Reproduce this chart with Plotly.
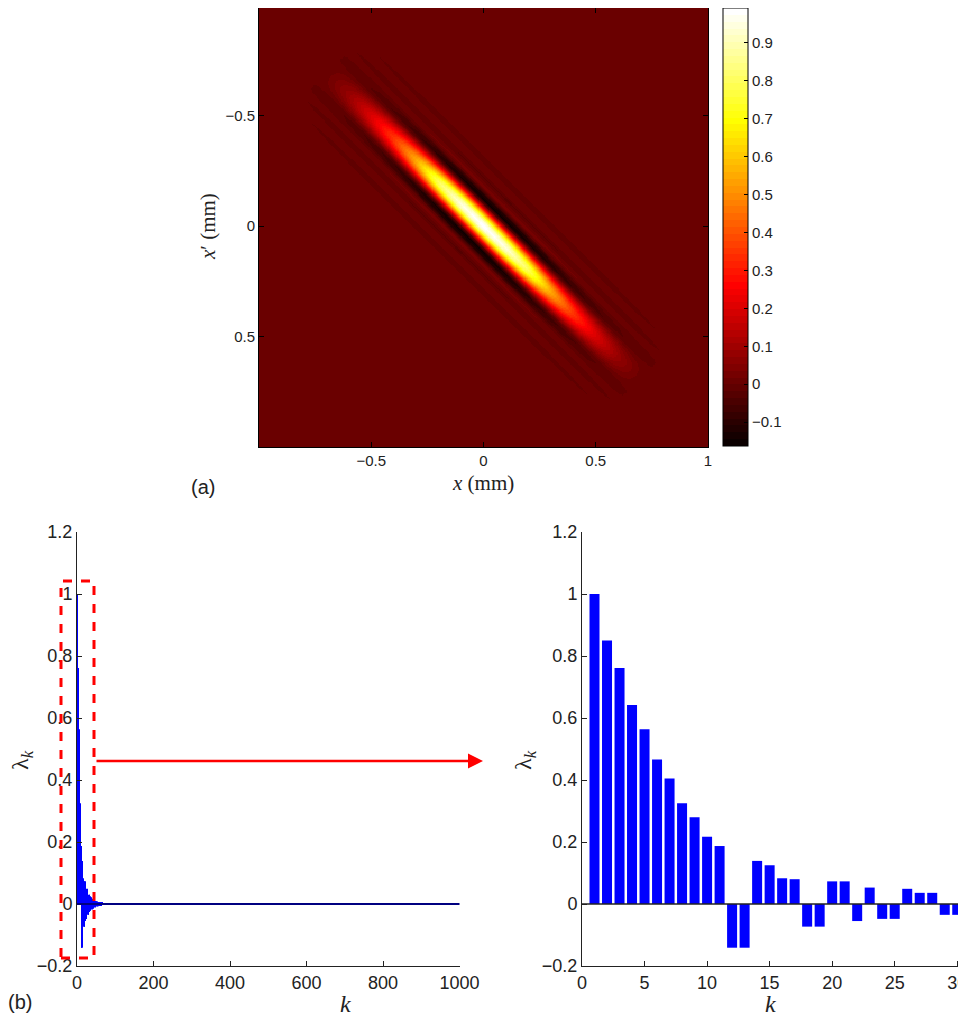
import numpy as np
import plotly.graph_objects as go

# page body margin (8px) offsets the figure; lay out in reference pixels
OFF = 8
W, H = 966 - OFF, 1019 - OFF

# ---------------- data ----------------
# (a) kernel: profile along the ridge (s = (x+x')/2) and across it (d = x - x')
along_s = [0.0, 0.1, 0.2, 0.3, 0.4, 0.5, 0.6, 0.7, 1.5]
along_env = [1.0, 0.95, 0.8, 0.55, 0.35, 0.2, 0.08, 0.0, 0.0]
cross_d = [0.0, 0.02, 0.04, 0.06, 0.08, 0.10, 0.12, 0.14, 0.16, 0.18, 0.20,
           0.22, 0.24, 0.26, 0.28, 0.30, 0.32, 0.34, 2.0]
cross_v = [1.0, 0.93, 0.75, 0.5, 0.22, -0.02, -0.15, -0.12, -0.02, 0.035, 0.0,
           -0.025, 0.0, 0.015, 0.0, -0.008, 0.0, 0.0, 0.0]

# (b) eigenvalues lambda_k
lam_first30 = [1.0, 0.85, 0.761, 0.642, 0.564, 0.466, 0.405, 0.325, 0.280, 0.217,
               0.187, -0.141, -0.141, 0.139, 0.125, 0.083, 0.080, -0.073, -0.073, 0.073,
               0.073, -0.055, 0.053, -0.048, -0.048, 0.049, 0.036, 0.036, -0.035, -0.035]
lam_tail = [0.030, 0.030, -0.026, 0.025, -0.022, -0.021, 0.022, 0.020, -0.018, 0.017,
            0.016, -0.015, 0.014, -0.013, 0.012, 0.012, -0.011, 0.010, -0.010, 0.009,
            0.009, -0.008, 0.008, 0.007, -0.007, 0.006, 0.006, -0.006, 0.005, 0.005,
            -0.005, 0.004, 0.004, -0.004, 0.004, 0.003, -0.003, 0.003, 0.003, -0.003,
            0.002, 0.002, -0.002, 0.002, 0.002, -0.002, 0.002, 0.001, -0.001, 0.001,
            0.001, -0.001, 0.001, 0.001, -0.001, 0.001, 0.001, -0.001, 0.001, 0.001]
lam_zero = [0.0] * (1000 - len(lam_first30) - len(lam_tail))
lam_all = lam_first30 + lam_tail + lam_zero
k_all = list(range(1, len(lam_all) + 1))
k_30 = list(range(1, 31))

# ---------------- build kernel image ----------------
xg = np.linspace(-1, 1, 401)
X, XP = np.meshgrid(xg, xg)
S = np.abs((X + XP) / 2)
D = np.abs(X - XP)
Z = np.interp(S, along_s, along_env) * np.interp(D, cross_d, cross_v)

# MATLAB "hot" with 64 levels as a stepped colorscale
n = 64
cols = []
for i in range(n):
    r = min(1.0, (i + 1) / 24)
    g = min(1.0, max(0.0, (i + 1 - 24) / 24))
    b = min(1.0, max(0.0, (i + 1 - 48) / 16))
    cols.append("rgb(%d,%d,%d)" % (round(r * 255), round(g * 255), round(b * 255)))
hot = []
for i, c in enumerate(cols):
    hot.append([i / n, c])
    hot.append([(i + 1) / n, c])

def px(v):
    return (v - OFF) / W

def py(v):
    return 1 - (v - OFF) / H

fig = go.Figure()

# colour limits: full range -0.163..1.0, top 3px hidden by page offset
zmin, zmax_full = -0.163, 1.0
cb_top, cb_bot = 5, 446
z_per_px = (zmax_full - zmin) / (cb_bot - cb_top)
zmax = zmax_full - (OFF - cb_top) * z_per_px

fig.add_trace(go.Heatmap(
    x=xg, y=xg, z=Z, zmin=zmin, zmax=zmax, colorscale=hot,
    xaxis="x", yaxis="y",
    colorbar=dict(
        x=px(723), xanchor="left", y=1.0, yanchor="top",
        len=(cb_bot - OFF) / H, lenmode="fraction", thickness=25, thicknessmode="pixels",
        outlinecolor="black", outlinewidth=1,
        tickvals=[-0.1, 0, 0.1, 0.2, 0.3, 0.4, 0.5, 0.6, 0.7, 0.8, 0.9],
        ticktext=["\u22120.1", "0", "0.1", "0.2", "0.3", "0.4", "0.5", "0.6", "0.7", "0.8", "0.9"],
        ticks="inside", ticklen=4, tickcolor="black",
        tickfont=dict(family="Liberation Sans", size=15, color="#222"),
        xpad=0, ypad=0,
    ),
))

fig.add_trace(go.Bar(x=k_all, y=lam_all, width=0.8, marker=dict(color="#0000ff", line=dict(width=0)),
                     xaxis="x2", yaxis="y2"))
fig.add_trace(go.Bar(x=k_30, y=lam_first30, width=0.8, marker=dict(color="#0000ff", line=dict(width=0)),
                     xaxis="x3", yaxis="y3"))

tickfont = dict(family="Liberation Sans", size=18, color="#222")
tickfont_a = dict(family="Liberation Sans", size=15, color="#222")
ytv = [-0.2, 0, 0.2, 0.4, 0.6, 0.8, 1, 1.2]
ytt = ["\u22120.2", "0", "0.2", "0.4", "0.6", "0.8", "1", "1.2"]

common_b = dict(ticks="inside", ticklen=5, tickcolor="#222", showline=True, linecolor="#222",
                linewidth=1, showgrid=False, zeroline=False, tickfont=tickfont, automargin=False,
                ticklabeloverflow="allow")
common_a = dict(ticks="inside", ticklen=5, tickcolor="black", showline=True, linecolor="black",
                linewidth=1, mirror="ticks", showgrid=False, zeroline=False, tickfont=tickfont_a,
                automargin=False)

# heatmap y: -1 at ref px 5, +1 at ref px 447; top 3px hidden by page offset
hy_top, hy_bot = 5, 447
y_per_px = 2.0 / (hy_bot - hy_top)
y_top_val = -1 + (OFF - hy_top) * y_per_px

fig.update_layout(
    width=W, height=H, margin=dict(l=0, r=0, t=0, b=0, autoexpand=False),
    paper_bgcolor="white", plot_bgcolor="white", showlegend=False,
    xaxis=dict(domain=[px(259), px(708)], range=[-1, 1], tickvals=[-0.5, 0, 0.5, 1],
               ticktext=["\u22120.5", "0", "0.5", "1"], anchor="y", **common_a),
    yaxis=dict(domain=[py(hy_bot), 1.0], range=[1, y_top_val], tickvals=[-0.5, 0, 0.5],
               ticktext=["\u22120.5", "0", "0.5"], anchor="x", **common_a),
    xaxis2=dict(domain=[px(77), px(459.5)], range=[0, 1000], tickvals=[0, 200, 400, 600, 800, 1000],
                anchor="y2", **common_b),
    yaxis2=dict(domain=[py(966), py(532)], range=[-0.2, 1.2], tickvals=ytv, ticktext=ytt,
                anchor="x2", **common_b),
    xaxis3=dict(domain=[px(582), 1.0], range=[0, 30.7], tickvals=[0, 5, 10, 15, 20, 25, 30],
                anchor="y3", **common_b),
    yaxis3=dict(domain=[py(966), py(532)], range=[-0.2, 1.2], tickvals=ytv, ticktext=ytt,
                anchor="x3", **common_b),
)

# bar baselines
fig.add_shape(type="line", xref="x2 domain", yref="y2", x0=0, x1=1, y0=0, y1=0,
              line=dict(color="#000080", width=2))
fig.add_shape(type="line", xref="x3 domain", yref="y3", x0=0, x1=1, y0=0, y1=0,
              line=dict(color="#222", width=1.5))

# red dashed zoom rectangle and arrow
fig.add_shape(type="rect", xref="paper", yref="paper", x0=px(61), x1=px(94), y0=py(958), y1=py(581),
              line=dict(color="#ff0000", width=3, dash="dash"))
fig.add_annotation(xref="paper", yref="paper", x=px(483), y=py(761), ax=-(483 - 95), ay=0,
                   showarrow=True, arrowhead=2, arrowsize=1.2, arrowwidth=2.5, arrowcolor="#ff0000",
                   text="")

serif = "Liberation Serif"
ann = [
    (483, 483, "<i>x</i> (mm)", 21, serif, 0),
    (208, 227, "<i>x</i>\u2032 (mm)", 21, serif, -90),
    (203, 487, "(a)", 20, "Liberation Sans", 0),
    (22, 760, "\u03bb<sub><i>k</i></sub>", 24, serif, -90),
    (345, 1004, "<i>k</i>", 24, serif, 0),
    (20, 1002, "(b)", 20, "Liberation Sans", 0),
    (525, 760, "\u03bb<sub><i>k</i></sub>", 24, serif, -90),
    (770, 1004, "<i>k</i>", 24, serif, 0),
]
for x0, y0, t, s, f, rot in ann:
    fig.add_annotation(xref="paper", yref="paper", x=px(x0), y=py(y0), text=t, showarrow=False,
                       textangle=rot, xanchor="center", yanchor="middle",
                       font=dict(family=f, size=s, color="#222"))

fig.write_html("out.html")
